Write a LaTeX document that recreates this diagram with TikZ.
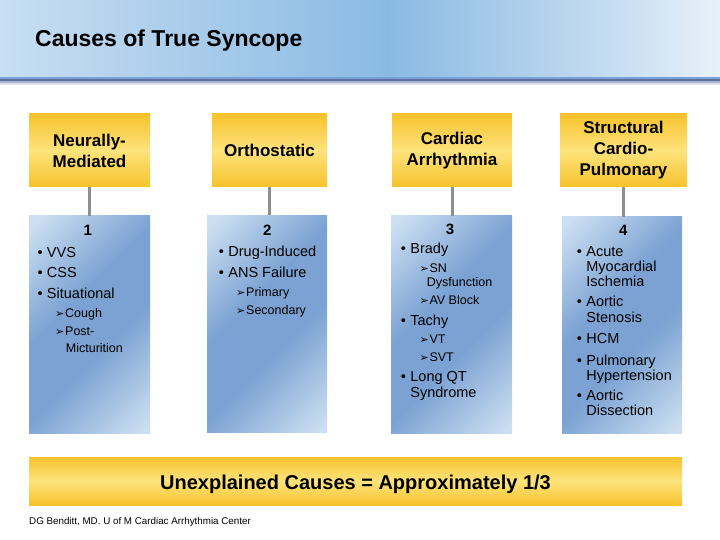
\documentclass[tikz,border=0pt]{standalone}
\usepackage{fontspec}
\setmainfont{Liberation Sans}
\newfontfamily\symfont{DejaVu Sans}
\usetikzlibrary{positioning}

\definecolor{bandlight}{HTML}{C8DEF2}
\definecolor{banddark}{HTML}{8ABAE3}
\definecolor{bandpale}{HTML}{E8F1F9}
\definecolor{bandline}{HTML}{79A1D5}
\definecolor{bandshadow}{HTML}{5F729F}
\definecolor{shadowgray}{HTML}{A9B3CB}
\definecolor{gold}{HTML}{F7C22C}
\definecolor{paleyellow}{HTML}{FDE37C}
\definecolor{bluelight}{HTML}{CCDFF2}
\definecolor{bluedark}{HTML}{7BA2D2}
\definecolor{linkgray}{HTML}{8E8E8E}

\pgfdeclarehorizontalshading{headband}{100bp}{color(0bp)=(bandlight); color(25bp)=(bandlight); color(52bp)=(banddark); color(68bp)=(bandlight); color(75bp)=(bandpale); color(100bp)=(bandpale)}
\pgfdeclarehorizontalshading{boxblue}{100bp}{color(0bp)=(bluelight); color(17bp)=(bluelight); color(42bp)=(bluedark); color(58bp)=(bluedark); color(84bp)=(bluelight); color(100bp)=(bluelight)}

\newcommand{\bul}{\makebox[9.5pt][l]{•}}
\newcommand{\subarr}{\makebox[10pt][l]{{\symfont\fontsize{11}{11}\selectfont ➢}}}

\tikzset{
    headbox/.style={top color=gold, bottom color=gold, middle color=paleyellow, minimum height=73pt, inner sep=0pt, align=center, font=\fontsize{17}{21}\selectfont\bfseries},
    listbox/.style={shade, shading=boxblue, shading angle=-45, minimum height=217pt, inner sep=0pt},
    link/.style={draw=linkgray, line width=3pt},
    num/.style={anchor=base, inner sep=0pt, font=\fontsize{15}{15}\selectfont\bfseries},
    item/.style={anchor=base west, inner sep=0pt, font=\fontsize{14.5}{15}\selectfont},
    subitem/.style={anchor=base west, inner sep=0pt, font=\fontsize{12.5}{13}\selectfont}
}

\begin{document}
\begin{tikzpicture}[x=1pt, y=-1pt]
\useasboundingbox (0,0) rectangle (720,540);

% Bandeau du titre
\shade[shading=headband] (0,0) rectangle (720,77);
\fill[bandline] (0,77) rectangle (720,79.5);
\fill[bandshadow] (0,79.5) rectangle (720,81.5);
\shade[top color=shadowgray, bottom color=white] (0,81.5) rectangle (720,85);
\node[anchor=base west, inner sep=0pt, font=\fontsize{23}{23}\selectfont\bfseries] (title) at (35,47) {Causes of True Syncope};

% Les 4 categories en haut
\node[headbox, minimum width=121pt] (hNM) at (89.5,150.5) {Neurally-\\Mediated};
\node[headbox, minimum width=115pt] (hOR) at (269.5,150.5) {Orthostatic};
\node[headbox, minimum width=120pt] (hCA) at (452,150.5) {Cardiac\\Arrhythmia};
\node[headbox, minimum width=127pt] (hSC) at (623.5,150.5) {Structural\\Cardio-\\Pulmonary};

% Les cadres bleus
\node[listbox, minimum width=121pt] (bNM) at (89.5,324.5) {};
\node[listbox, minimum width=120pt] (bOR) at (267,324) {};
\node[listbox, minimum width=121pt] (bCA) at (451.5,324.5) {};
\node[listbox, minimum width=120pt, minimum height=216pt] (bSC) at (622,325) {};

% Les traits gris
\draw[link] (hNM.south) -- (hNM.south |- bNM.north);
\draw[link] (hOR.south) -- (hOR.south |- bOR.north);
\draw[link] (hCA.south) -- (hCA.south |- bCA.north);
\draw[link] (hSC.south) -- (hSC.south |- bSC.north);

% Cadre 1
\node[num] (n1) at (87.7,236) {1};
\node[item] (vvs) at (37.3,257) {\bul VVS};
\node[item] (css) at (37.3,277.7) {\bul CSS};
\node[item] (sit) at (37.3,298.3) {\bul Situational};
\node[subitem] (cough) at (55,317) {\subarr Cough};
\node[subitem] (post) at (55,335) {\subarr Post-};
\node[subitem] (mict) at (65.7,352.7) {Micturition};

% Cadre 2
\node[num] (n2) at (267.3,236) {2};
\node[item] (drug) at (218.7,256.7) {\bul Drug-Induced};
\node[item] (ans) at (218.7,277.7) {\bul ANS Failure};
\node[subitem] (prim) at (236,296) {\subarr Primary};
\node[subitem] (sec) at (236,314) {\subarr Secondary};

% Cadre 3
\node[num] (n3) at (450,234) {3};
\node[item] (brady) at (400.7,253.3) {\bul Brady};
\node[subitem] (sn) at (419.3,272.7) {\subarr SN};
\node[subitem] (dysf) at (426.7,286) {Dysfunction};
\node[subitem] (avb) at (419.3,304) {\subarr AV Block};
\node[item] (tachy) at (400.7,325) {\bul Tachy};
\node[subitem] (vt) at (419.3,343.3) {\subarr VT};
\node[subitem] (svt) at (419.3,361.7) {\subarr SVT};
\node[item] (lqt) at (400.7,381.7) {\bul Long QT};
\node[item] (synd) at (410.2,397.3) {Syndrome};

% Cadre 4
\node[num] (n4) at (623.3,236) {4};
\node[item] (acute) at (576.7,256.7) {\bul Acute};
\node[item] (myo) at (586.2,271.7) {Myocardial};
\node[item] (isch) at (586.2,286.7) {Ischemia};
\node[item] (aort) at (576.7,306.7) {\bul Aortic};
\node[item] (sten) at (586.2,322.3) {Stenosis};
\node[item] (hcm) at (576.7,343.3) {\bul HCM};
\node[item] (pulm) at (576.7,365) {\bul Pulmonary};
\node[item] (hyp) at (586.2,380) {Hypertension};
\node[item] (aort2) at (576.7,400) {\bul Aortic};
\node[item] (diss) at (586.2,415) {Dissection};

% Barre du bas et source
\node[headbox, minimum width=653pt, minimum height=48pt] (unexp) at (355.5,481) {};
\node[anchor=base, inner sep=0pt, font=\fontsize{20}{20}\selectfont\bfseries] (unexptext) at (unexp.center |- 0,489) {Unexplained Causes = Approximately 1/3};
\node[anchor=base west, inner sep=0pt, font=\fontsize{9.8}{10}\selectfont] (credit) at (29,524) {DG Benditt, MD. U of M Cardiac Arrhythmia Center};
\end{tikzpicture}
\end{document}
